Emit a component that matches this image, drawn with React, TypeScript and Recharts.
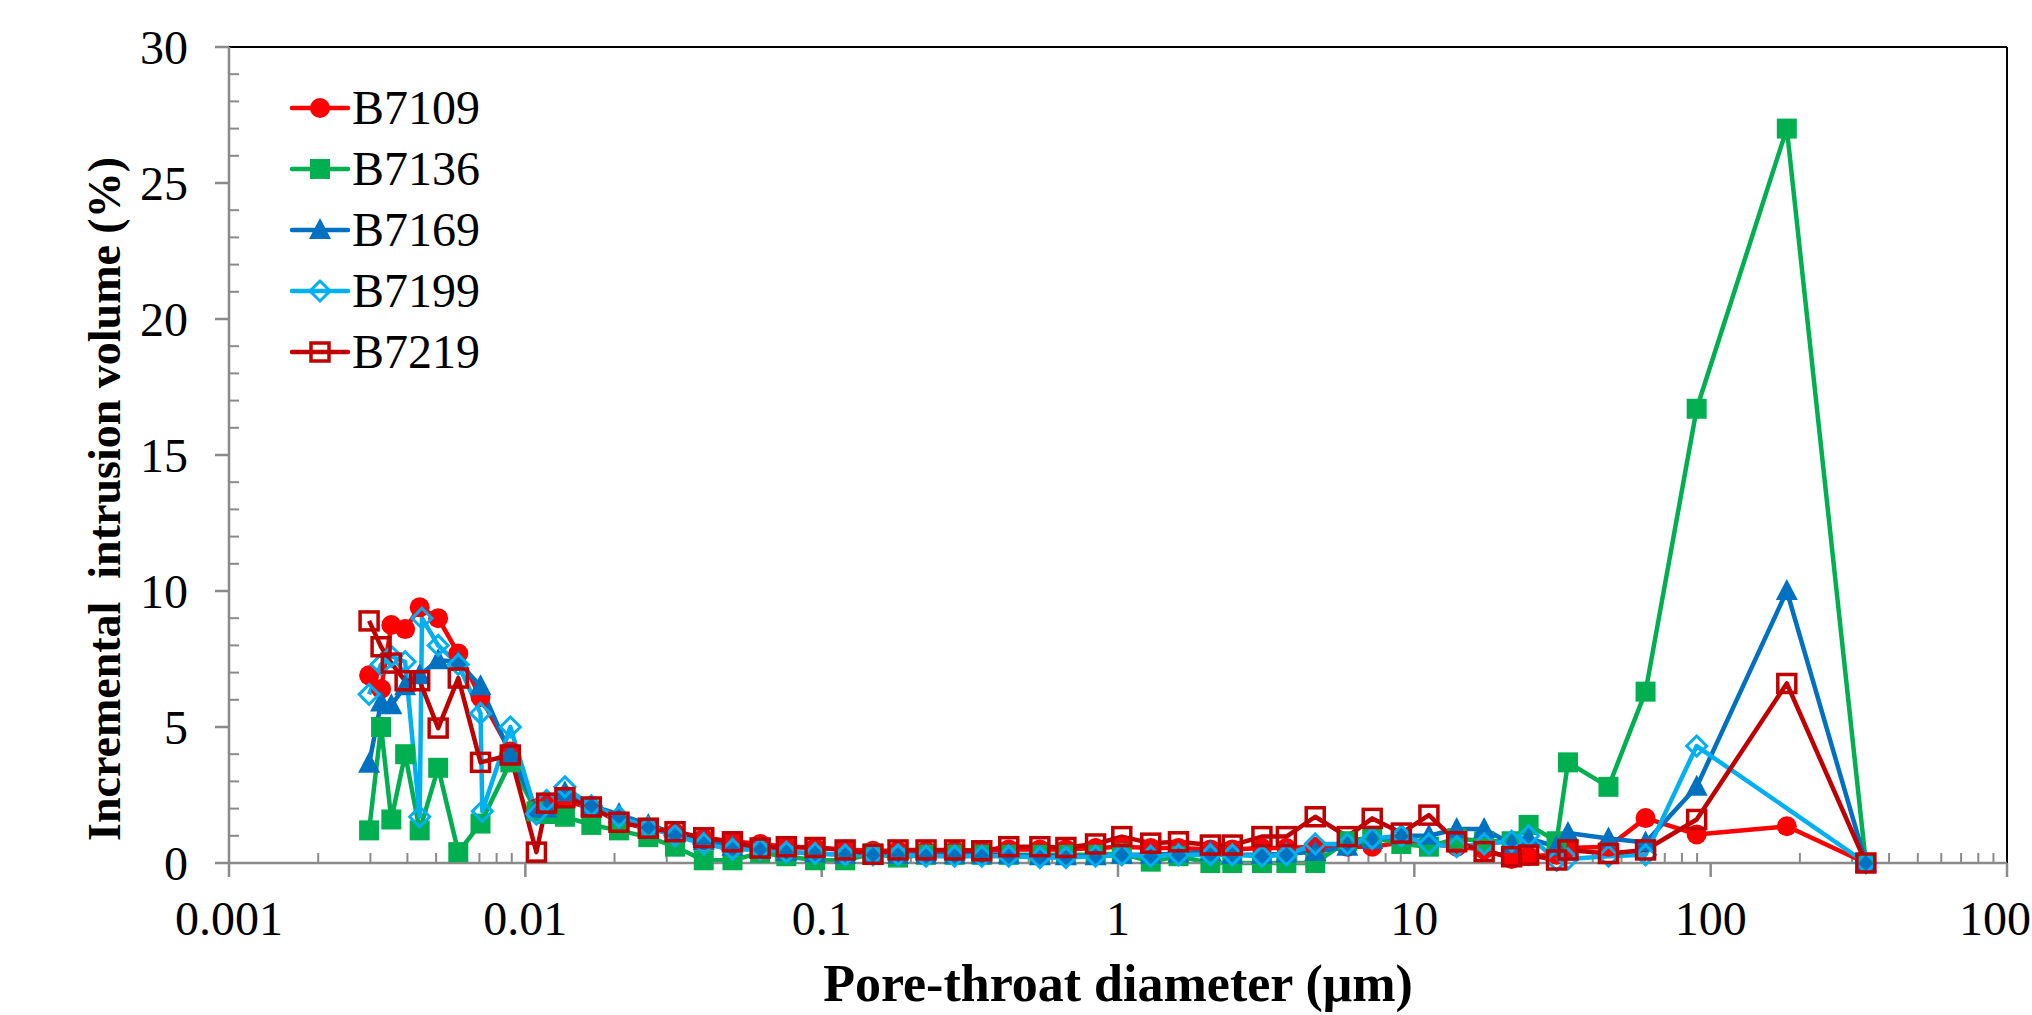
import React from 'react';
import { LineChart, Line, XAxis, YAxis, ReferenceLine, Legend } from 'recharts';

// pore-throat diameters (µm), shared x grid
const diameters = [
  0.00297, 0.00326, 0.00353, 0.00393, 0.0044, 0.00448, 0.00508, 0.00594, 0.00706, 0.00716,
  0.0089, 0.0109, 0.0118, 0.0136, 0.0167, 0.0207, 0.026, 0.032, 0.04, 0.05,
  0.062, 0.076, 0.095, 0.12, 0.149, 0.181, 0.225, 0.281, 0.347, 0.428,
  0.545, 0.667, 0.84, 1.03, 1.29, 1.6, 2.05, 2.43, 3.06, 3.7,
  4.63, 5.94, 7.21, 9.04, 11.2, 13.9, 17.2, 21.3, 24.3, 30.2,
  33.0, 45.2, 60.3, 89.7, 180.7, 334,
];

const b7109 = [
  6.9, 6.4, 8.75, 8.6, 9.4, null, 9.0, 7.7, 6.1, null,
  4.1, 2.0, 2.2, 2.3, 2.0, 1.6, 1.3, 1.1, 0.9, 0.8,
  0.7, 0.6, 0.55, 0.5, 0.45, 0.45, 0.45, 0.45, 0.45, 0.5,
  0.5, 0.5, 0.55, 0.6, 0.55, 0.55, 0.5, 0.5, 0.55, 0.55,
  0.6, 0.6, 0.6, 0.75, 0.7, 0.6, 0.5, 0.15, 0.25, 0.3,
  0.55, 0.6, 1.65, 1.05, 1.35, 0,
];

const b7136 = [
  1.2, 5.0, 1.6, 4.0, 1.2, null, 3.5, 0.4, 1.45, null,
  3.7, 1.9, 1.8, 1.7, 1.4, 1.2, 0.95, 0.6, 0.1, 0.1,
  0.37, 0.25, 0.1, 0.1, 0.35, 0.2, 0.3, 0.3, 0.3, 0.3,
  0.3, 0.3, 0.3, 0.35, 0.05, 0.25, 0.0, 0.0, 0.0, 0.0,
  0.0, 0.8, 0.95, 0.7, 0.6, 0.9, 0.8, 0.8, 1.4, 0.8,
  3.7, 2.8, 6.3, 16.7, 27.0, 0,
];

const b7169 = [
  3.65, 5.9, 5.8, 6.5, 6.9, null, 7.45, 7.4, 6.5, null,
  4.0, 2.0, 2.0, 2.6, 2.1, 1.8, 1.4, 1.1, 0.8, 0.6,
  0.5, 0.4, 0.35, 0.3, 0.3, 0.3, 0.3, 0.3, 0.3, 0.3,
  0.25, 0.25, 0.25, 0.3, 0.3, 0.35, 0.4, 0.3, 0.3, 0.35,
  0.4, 0.6, 0.85, 1.0, 1.0, 1.25, 1.25, 0.7, 0.9, 0.6,
  1.1, 0.9, 0.75, 2.8, 10.0, 0,
];

const b7199 = [
  6.2, 7.3, 7.6, 7.4, 1.7, 9.0, 8.0, 7.3, 5.5, 1.9,
  5.0, 1.8, 2.3, 2.8, 2.1, 1.7, 1.3, 1.0, 0.7, 0.5,
  0.5, 0.4, 0.35, 0.3, 0.3, 0.3, 0.25, 0.25, 0.25, 0.25,
  0.2, 0.2, 0.25, 0.3, 0.25, 0.3, 0.3, 0.3, 0.25, 0.3,
  0.7, 0.7, 0.9, 1.0, 0.7, 0.6, 0.7, 0.8, 1.0, 0.1,
  0.15, 0.25, 0.3, 4.3, null, 0,
];

const b7219 = [
  8.9, 7.95, 7.35, 6.7, 6.7, null, 4.96, 6.8, 3.7, null,
  3.97, 0.4, 2.2, 2.4, 2.06, 1.5, 1.28, 1.15, 0.93, 0.78,
  0.55, 0.6, 0.57, 0.48, 0.32, 0.48, 0.48, 0.48, 0.45, 0.6,
  0.6, 0.57, 0.7, 0.97, 0.73, 0.78, 0.66, 0.66, 0.97, 0.97,
  1.7, 0.97, 1.64, 1.1, 1.76, 0.78, 0.42, 0.23, 0.29, 0.11,
  0.48, 0.35, 0.48, 1.6, 6.6, 0,
];

const xTicks = [0.001, 0.01, 0.1, 1, 10, 100, 1000];
const yTicks = [0, 5, 10, 15, 20, 25, 30];
const xMinorTicks = xTicks.slice(0, -1).flatMap((b) =>
  [2, 3, 4, 5, 6, 7, 8, 9].map((m) => Number((b * m).toPrecision(3)))
);
const yMinorTicks = Array.from({ length: 31 }, (_, i) => i).filter((v) => v % 5 !== 0);

const series = [
  { key: 'B7109', color: '#FF0000', marker: 'circle', values: b7109 },
  { key: 'B7136', color: '#00B050', marker: 'square', values: b7136 },
  { key: 'B7169', color: '#0070C0', marker: 'triangle', values: b7169 },
  { key: 'B7199', color: '#00B0F0', marker: 'diamond', values: b7199 },
  { key: 'B7219', color: '#C00000', marker: 'openSquare', values: b7219 },
];

const data = diameters.map((d, i) => {
  const row: Record<string, number | null> = { d };
  series.forEach((s) => (row[s.key] = s.values[i]));
  return row;
});

const FONT = '"Liberation Serif", "Times New Roman", serif';
const AXIS_GRAY = '#8a8a8a';

function Marker({ kind, color, cx, cy }: { kind: string; color: string; cx: number; cy: number }) {
  switch (kind) {
    case 'circle':
      return <circle cx={cx} cy={cy} r={10} fill={color} />;
    case 'square':
      return <rect x={cx - 10} y={cy - 10} width={20} height={20} fill={color} />;
    case 'triangle':
      return <polygon points={`${cx},${cy - 12} ${cx + 11},${cy + 9} ${cx - 11},${cy + 9}`} fill={color} />;
    case 'diamond':
      return (
        <polygon
          points={`${cx},${cy - 10} ${cx + 10},${cy} ${cx},${cy + 10} ${cx - 10},${cy}`}
          fill="none"
          stroke={color}
          strokeWidth={3}
        />
      );
    default:
      return <rect x={cx - 9} y={cy - 9} width={18} height={18} fill="none" stroke={color} strokeWidth={3.5} />;
  }
}

const makeDot = (kind: string, color: string, name: string) => (props: any) => {
  const { cx, cy, index } = props;
  if (cx == null || cy == null || Number.isNaN(cy)) return <g key={`${name}-${index}`} />;
  return (
    <g key={`${name}-${index}`}>
      <Marker kind={kind} color={color} cx={cx} cy={cy} />
    </g>
  );
};

const renderLegend = (props: any) => {
  const items = (props.payload || []).map((p: any) => series.find((s) => s.key === p.value)).filter(Boolean);
  return (
    <svg width={320} height={320}>
      {items.map((s: any, i: number) => {
        const cy = 28 + i * 61;
        return (
          <g key={s.key}>
            <line x1={12} x2={68} y1={cy} y2={cy} stroke={s.color} strokeWidth={4.5} strokeLinecap="round" />
            <Marker kind={s.marker} color={s.color} cx={40} cy={cy} />
            <text x={72} y={cy + 16} fontSize={48} fontFamily={FONT} fill="#000">
              {s.key}
            </text>
          </g>
        );
      })}
    </svg>
  );
};

const xTitle = (props: any) => {
  const vb = props.viewBox;
  return (
    <text x={vb.x + vb.width / 2} y={vb.y + 138} textAnchor="middle" fontSize={52} fontWeight="bold" fontFamily={FONT} fill="#000">
      Pore-throat diameter (μm)
    </text>
  );
};

const yTitle = (props: any) => {
  const vb = props.viewBox;
  const x = vb.x - 9;
  const y = vb.y + vb.height / 2 + 44;
  return (
    <text
      x={x}
      y={y}
      transform={`rotate(-90, ${x}, ${y})`}
      textAnchor="middle"
      fontSize={46}
      fontWeight="bold"
      fontFamily={FONT}
      fill="#000"
      style={{ whiteSpace: 'pre' }}
    >
      {'Incremental  intrusion volume (%)'}
    </text>
  );
};

const xMinorShape = (p: any) => {
  const yb = Math.max(p.y1, p.y2);
  return <line x1={p.x1} x2={p.x1} y1={yb} y2={yb - 10} stroke={AXIS_GRAY} strokeWidth={2} />;
};

const yMinorShape = (p: any) => {
  const xl = Math.min(p.x1, p.x2);
  return <line x1={xl} x2={xl + 10} y1={p.y1} y2={p.y1} stroke={AXIS_GRAY} strokeWidth={2} />;
};

export default function App() {
  return (
    <div style={{ position: 'absolute', left: 0, top: 0, width: 2032, height: 1015, overflow: 'hidden', background: '#fff' }}>
      <LineChart width={2032} height={1015} data={data} margin={{ top: 47, right: 25, left: 129, bottom: 0 }}>
        <XAxis
          dataKey="d"
          type="number"
          scale="log"
          domain={[0.001, 1000]}
          ticks={xTicks}
          interval={0}
          allowDataOverflow
          height={152}
          tickSize={14}
          tickMargin={24}
          axisLine={{ stroke: AXIS_GRAY, strokeWidth: 2.5 }}
          tickLine={{ stroke: AXIS_GRAY, strokeWidth: 2.5 }}
          tick={{ fill: '#000', fontSize: 48, fontFamily: FONT }}
          tickFormatter={(v: number) => String(v)}
          label={xTitle}
        />
        <YAxis
          type="number"
          domain={[0, 30]}
          ticks={yTicks}
          interval={0}
          width={100}
          tickSize={14}
          tickMargin={27}
          axisLine={{ stroke: AXIS_GRAY, strokeWidth: 2.5 }}
          tickLine={{ stroke: AXIS_GRAY, strokeWidth: 2.5 }}
          tick={{ fill: '#000', fontSize: 48, fontFamily: FONT }}
          label={yTitle}
        />
        <ReferenceLine y={30} stroke="#000" strokeWidth={2} />
        <ReferenceLine x={1000} stroke="#000" strokeWidth={2} />
        {xMinorTicks.map((v) => (
          <ReferenceLine key={`xm-${v}`} x={v} shape={xMinorShape} />
        ))}
        {yMinorTicks.map((v) => (
          <ReferenceLine key={`ym-${v}`} y={v} shape={yMinorShape} />
        ))}
        <Legend
          layout="vertical"
          align="center"
          verticalAlign="middle"
          content={renderLegend}
          wrapperStyle={{ left: 280, top: 80, width: 320, height: 320 }}
        />
        {series.map((s) => (
          <Line
            key={s.key}
            dataKey={s.key}
            name={s.key}
            type="linear"
            stroke={s.color}
            strokeWidth={4.5}
            strokeLinejoin="round"
            connectNulls
            dot={makeDot(s.marker, s.color, s.key)}
            activeDot={false}
            isAnimationActive={false}
          />
        ))}
      </LineChart>
    </div>
  );
}
